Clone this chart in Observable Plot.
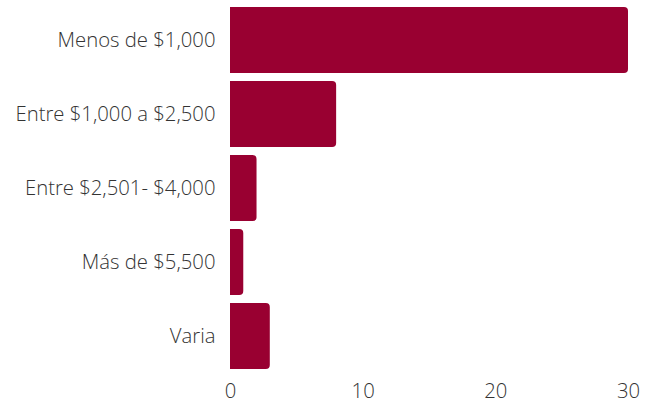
<!DOCTYPE html>
<html><head><meta charset="utf-8">
<script src="https://cdn.jsdelivr.net/npm/d3@7"></script>
<script src="https://cdn.jsdelivr.net/npm/@observablehq/plot@0.6"></script>
<style>body{margin:0;background:#fff;font-family:"Open Sans",sans-serif;}</style>
</head><body><div id="chart"></div>
<script>
const categories = ["Menos de $1,000", "Entre $1,000 a $2,500", "Entre $2,501- $4,000", "Más de $5,500", "Varia"];
const values = [30, 8, 2, 1, 3];
const xTicks = [0, 10, 20, 30];
const data = categories.map((c, i) => ({category: c, value: values[i]}));

const chart = Plot.plot({
  width: 656,
  height: 403,
  marginLeft: 230,
  marginRight: 28,
  marginTop: 6,
  marginBottom: 34,
  style: {fontFamily: "'Open Sans', sans-serif", fontSize: "20.3px", fontWeight: 300, color: "#333", background: "#fff"},
  x: {domain: [0, 30], ticks: xTicks, tickSize: 0, tickPadding: 14, label: null},
  y: {domain: categories, paddingInner: 0.11, paddingOuter: 0, tickSize: 0, tickPadding: 15, label: null},
  marks: [
    Plot.barX(data, {x: "value", y: "category", fill: "#990031", rx2: 4})
  ]
});
document.getElementById("chart").appendChild(chart);
</script>
</body></html>
